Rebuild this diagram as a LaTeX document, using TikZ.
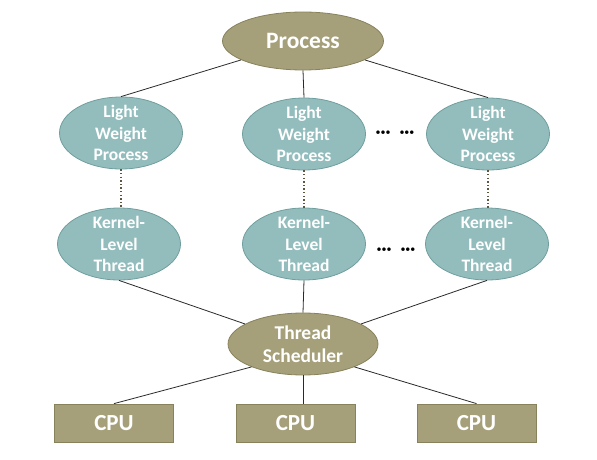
\documentclass[tikz,border=0pt]{standalone}
\usepackage{fontspec}
\setmainfont{Carlito}
\usetikzlibrary{shapes.geometric}
\definecolor{olivefill}{HTML}{A6A07A}
\definecolor{oliveedge}{HTML}{87825C}
\definecolor{tealfill}{HTML}{93BDBD}
\definecolor{tealedge}{HTML}{709E9E}
\definecolor{dotcol}{HTML}{5E5640}
\definecolor{linecol}{HTML}{2A2A2A}
\tikzset{
  oliveell/.style={ellipse, draw=oliveedge, fill=olivefill, line width=0.8pt, inner sep=0pt},
  tealell/.style={ellipse, draw=tealedge, fill=tealfill, line width=0.8pt, inner sep=0pt,
    minimum width=123pt, minimum height=72pt},
  cpubox/.style={rectangle, draw=oliveedge, fill=olivefill, line width=0.8pt, inner sep=0pt,
    minimum width=119pt, minimum height=38pt, text=white,
    font=\fontsize{23}{26}\selectfont\bfseries},
  smalltxt/.style={text=white, align=center, inner sep=0pt,
    font=\fontsize{17.5}{21.5}\selectfont\bfseries},
  conn/.style={draw=linecol, line width=0.8pt},
  dotconn/.style={draw=dotcol, line width=1.4pt, dash pattern=on 1.4pt off 2.2pt},
  dotstxt/.style={inner sep=0pt, text=black, font=\fontsize{10}{12}\selectfont}
}
\begin{document}
\begin{tikzpicture}[x=1pt,y=-1pt]
\useasboundingbox (0,0) rectangle (597,460);
% Process
\node[oliveell, minimum width=161pt, minimum height=58pt] (proc) at (303,41) {};
\node[text=white, inner sep=0pt, font=\fontsize{23.5}{26}\selectfont\bfseries] (proct) at (proc) {Process};
% LWP
\node[tealell] (l1) at (121,133) {};
\node[tealell] (l2) at (304,134) {};
\node[tealell] (l3) at (488,134) {};
\node[smalltxt] (l1t) at (l1) {Light\\Weight\\Process};
\node[smalltxt] (l2t) at (l2) {Light\\Weight\\Process};
\node[smalltxt] (l3t) at (l3) {Light\\Weight\\Process};
% KLT
\node[tealell] (k1) at (119,244) {};
\node[tealell] (k2) at (304,244) {};
\node[tealell] (k3) at (487,244) {};
\node[smalltxt] (k1t) at (k1) {Kernel-\\Level\\Thread};
\node[smalltxt] (k2t) at (k2) {Kernel-\\Level\\Thread};
\node[smalltxt] (k3t) at (k3) {Kernel-\\Level\\Thread};
% dots
\node[dotstxt] (d1) at (395,133) {•••\hspace{9pt}•••};
\node[dotstxt] (d2) at (396,250) {•••\hspace{9pt}•••};
% Scheduler
\node[oliveell, minimum width=150pt, minimum height=62pt] (sch) at (303,344) {};
\node[text=white, align=center, inner sep=0pt, font=\fontsize{19.5}{23}\selectfont\bfseries] (scht) at (sch) {Thread\\Scheduler};
% CPUs
\node[cpubox] (c1) at (114,423) {CPU};
\node[cpubox] (c2) at (295.5,423) {CPU};
\node[cpubox] (c3) at (476.5,423) {CPU};
% connectors
\draw[conn] (proc) -- (l1.north);
\draw[conn] (proc.south) -- (l2.north);
\draw[conn] (proc) -- (l3.north);
\draw[dotconn] (l1.south) -- (l1.south |- k1.north);
\draw[dotconn] (l2.south) -- (k2.north);
\draw[dotconn] (l3.south) -- (l3.south |- k3.north);
\draw[conn] (k1.south) -- (sch);
\draw[conn] (k2.south) -- (sch.north);
\draw[conn] (k3.south) -- (sch);
\draw[conn] (sch.204) -- (c1.north);
\draw[conn] (sch.south) -- (sch.south |- c2.north);
\draw[conn] (sch.336) -- (c3.north);
\end{tikzpicture}
\end{document}
